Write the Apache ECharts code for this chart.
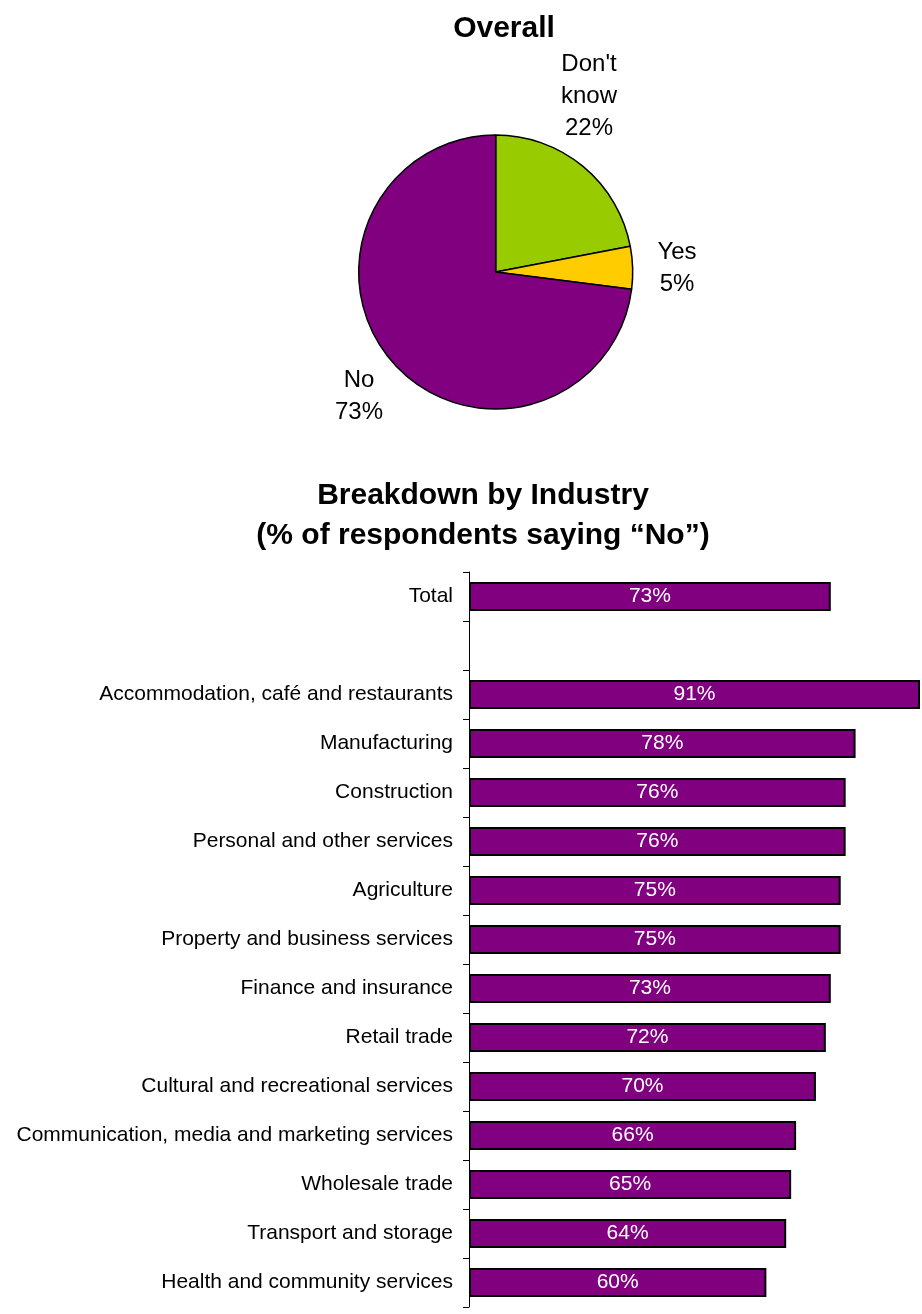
<!DOCTYPE html>
<html>
<head>
<meta charset="utf-8">
<script src="https://cdn.jsdelivr.net/npm/echarts@6/dist/echarts.min.js"></script>
<style>
html,body{margin:0;padding:0;background:#fff;}
#chart{width:922px;height:1314px;}
</style>
</head>
<body>
<div id="chart"></div>
<script>
// ---- Data ----
const pieNames = ["Don't know", "Yes", "No"];
const pieValues = [22, 5, 73];
const pieColors = ['#99CC00', '#FFCC00', '#800080'];

const categories = [
  'Total',
  '',
  'Accommodation, café and restaurants',
  'Manufacturing',
  'Construction',
  'Personal and other services',
  'Agriculture',
  'Property and business services',
  'Finance and insurance',
  'Retail trade',
  'Cultural and recreational services',
  'Communication, media and marketing services',
  'Wholesale trade',
  'Transport and storage',
  'Health and community services'
];
const noValues = [73, null, 91, 78, 76, 76, 75, 75, 73, 72, 70, 66, 65, 64, 60];

const titleOverall = 'Overall';
const titleBreakdown1 = 'Breakdown by Industry';
const titleBreakdown2 = '(% of respondents saying \u201CNo\u201D)';

// ---- Chart ----
const FONT = '"Liberation Sans", Arial, Helvetica, sans-serif';
const chart = echarts.init(document.getElementById('chart'), null, {renderer: 'canvas'});

const pieLabelPos = [
  {x: 589, y: 96},
  {x: 677, y: 268},
  {x: 359, y: 396}
];

const option = {
  animation: false,
  backgroundColor: '#ffffff',
  textStyle: {fontFamily: FONT},
  graphic: [
    {type: 'text', x: 504, y: 29, style: {text: titleOverall, font: 'bold 30px ' + FONT, fill: '#000', align: 'center', verticalAlign: 'middle'}},
    {type: 'text', x: 483, y: 496, style: {text: titleBreakdown1, font: 'bold 30px ' + FONT, fill: '#000', align: 'center', verticalAlign: 'middle'}},
    {type: 'text', x: 483, y: 536, style: {text: titleBreakdown2, font: 'bold 30px ' + FONT, fill: '#000', align: 'center', verticalAlign: 'middle'}}
  ],
  grid: {left: 469, top: 572, height: 735, width: 451, containLabel: false},
  xAxis: {type: 'value', min: 0, max: 91, show: false},
  yAxis: {
    type: 'category',
    data: categories,
    inverse: true,
    axisLine: {show: true, lineStyle: {color: '#000', width: 1}},
    axisTick: {show: true, length: 6, inside: false, lineStyle: {color: '#000'}},
    axisLabel: {color: '#000', fontSize: 21, fontFamily: FONT, margin: 16, interval: 0},
    splitLine: {show: false}
  },
  series: [
    {
      type: 'pie',
      center: [495.7, 272],
      radius: 137,
      startAngle: 90,
      clockwise: true,
      data: pieNames.map((n, i) => ({name: n, value: pieValues[i], itemStyle: {color: pieColors[i]}})),
      itemStyle: {borderColor: '#000', borderWidth: 1.5},
      label: {
        show: true,
        position: 'outside',
        color: '#000',
        fontSize: 24,
        fontFamily: FONT,
        lineHeight: 32,
        align: 'center',
        formatter: p => p.name.replace(' ', '\n') + '\n' + p.value + '%'
      },
      labelLine: {show: false},
      labelLayout: p => ({x: pieLabelPos[p.dataIndex].x, y: pieLabelPos[p.dataIndex].y, align: 'center', verticalAlign: 'middle'}),
      emphasis: {disabled: true},
      silent: true
    },
    {
      type: 'bar',
      data: noValues,
      barWidth: 29,
      itemStyle: {color: '#800080', borderColor: '#000', borderWidth: 2},
      label: {
        show: true,
        position: 'inside',
        color: '#fff',
        fontSize: 21,
        fontFamily: FONT,
        formatter: p => p.value + '%'
      },
      silent: true
    }
  ]
};
chart.setOption(option);
</script>
</body>
</html>
